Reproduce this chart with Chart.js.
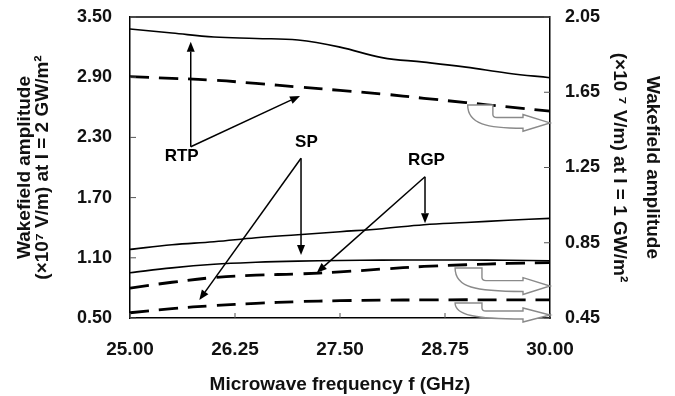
<!DOCTYPE html>
<html>
<head>
<meta charset="utf-8">
<script src="https://cdn.jsdelivr.net/npm/chart.js@4.4.1/dist/chart.umd.min.js"></script>
<style>
  html, body { margin: 0; padding: 0; background: #fff; }
  #wrap { width: 675px; height: 396px; }
</style>
</head>
<body>
<div id="wrap"><canvas id="c" width="675" height="396"></canvas></div>
<script>
// ---- data ----
const frequency = [25.0, 25.5, 26.0, 26.5, 27.0, 27.5, 28.0, 28.5, 29.0, 29.5, 30.0];
// left axis: I = 2 GW/m^2 (solid lines)
const rtpSolid = [3.38, 3.34, 3.30, 3.286, 3.27, 3.20, 3.095, 3.05, 3.00, 2.94, 2.895];
const rgpSolid = [1.184, 1.23, 1.26, 1.30, 1.33, 1.36, 1.39, 1.43, 1.452, 1.474, 1.493];
const spSolid  = [0.951, 1.00, 1.035, 1.055, 1.067, 1.073, 1.077, 1.078, 1.078, 1.075, 1.07];
// right axis: I = 1 GW/m^2 (dashed lines)
const rtpDashed = [1.733, 1.724, 1.714, 1.697, 1.678, 1.66, 1.641, 1.618, 1.595, 1.572, 1.550];
const rgpDashed = [0.609, 0.64, 0.665, 0.678, 0.684, 0.695, 0.71, 0.724, 0.733, 0.74, 0.744];
const spDashed  = [0.478, 0.50, 0.516, 0.528, 0.537, 0.542, 0.545, 0.546, 0.547, 0.546, 0.546];
// tick values
const xTicks = [25.00, 26.25, 27.50, 28.75, 30.00];
const yLeftTicks = [0.50, 1.10, 1.70, 2.30, 2.90, 3.50];
const yRightTicks = [0.45, 0.85, 1.25, 1.65, 2.05];

// annotation labels (data coordinates, left axis)
const labelNotes = [
  { text: 'RTP', at: [25.615, 2.108], from: [25.723, 2.207], to: [[25.723, 3.254], [27.024, 2.713]] },
  { text: 'SP',  at: [27.10, 2.247],  from: [27.036, 2.092], to: [[27.036, 1.128], [25.825, 0.679]] },
  { text: 'RGP', at: [28.53, 2.075],  from: [28.512, 1.908], to: [[28.512, 1.444], [27.223, 0.951]] }
];
// hollow bent arrows pointing to the right axis (right-axis units: top of hook, arrow tip)
const axisPointers = [
  { top: 1.582, tip: 1.487, left: 29.02, inner: 29.32 },
  { top: 0.716, tip: 0.620, left: 28.87, inner: 29.19 },
  { top: 0.530, tip: 0.466, left: 28.87, inner: 29.19 }
];

const FONT = "'Liberation Sans', Arial, Helvetica, sans-serif";

function toPts(ys) { return frequency.map((f, i) => ({ x: f, y: ys[i] })); }

const decorPlugin = {
  id: 'decor',
  afterDatasetsDraw(chart) {
    const { ctx, chartArea: a, scales } = chart;
    const x = scales.x, y = scales.y, y2 = scales.y2;
    ctx.save();
    // frame top
    ctx.strokeStyle = '#000';
    ctx.lineWidth = 1.5;
    ctx.beginPath();
    ctx.moveTo(a.left, a.top); ctx.lineTo(a.right, a.top);
    ctx.stroke();
    // inner ticks
    ctx.lineWidth = 1;
    ctx.strokeStyle = '#555';
    ctx.beginPath();
    xTicks.forEach(v => { const px = x.getPixelForValue(v); ctx.moveTo(px, a.bottom); ctx.lineTo(px, a.bottom - 5); });
    yLeftTicks.forEach(v => { const py = y.getPixelForValue(v); ctx.moveTo(a.left, py); ctx.lineTo(a.left + 6, py); });
    yRightTicks.forEach(v => { const py = y2.getPixelForValue(v); ctx.moveTo(a.right, py); ctx.lineTo(a.right - 6, py); });
    ctx.stroke();

    // hollow bent arrows
    ctx.strokeStyle = '#8a8a8a';
    ctx.fillStyle = '#fff';
    ctx.lineWidth = 1.4;
    axisPointers.forEach(p => {
      const tipX = a.right;
      const tipY = y2.getPixelForValue(p.tip);
      const topY = y2.getPixelForValue(p.top);
      const lx = x.getPixelForValue(p.left);
      const ix = x.getPixelForValue(p.inner);
      const hb = tipX - 27;
      const span = tipY - topY;
      const sh = Math.max(4, Math.min(6, span * 0.3));
      const hh = sh + 3;
      ctx.beginPath();
      ctx.moveTo(lx, topY);
      ctx.lineTo(ix, topY);
      ctx.lineTo(ix, tipY - sh - 3);
      ctx.quadraticCurveTo(ix, tipY - sh, ix + 4, tipY - sh);
      ctx.lineTo(hb, tipY - sh);
      ctx.lineTo(hb, tipY - hh);
      ctx.lineTo(tipX, tipY);
      ctx.lineTo(hb, tipY + hh);
      ctx.lineTo(hb, tipY + sh);
      ctx.bezierCurveTo(lx + 20, tipY + sh, lx, tipY + sh - 4, lx, topY);
      ctx.closePath();
      ctx.fill();
      ctx.stroke();
    });

    // label arrows
    ctx.strokeStyle = '#000';
    ctx.fillStyle = '#000';
    ctx.lineWidth = 1.5;
    labelNotes.forEach(n => {
      const fx = x.getPixelForValue(n.from[0]), fy = y.getPixelForValue(n.from[1]);
      n.to.forEach(t => {
        const tx = x.getPixelForValue(t[0]), ty = y.getPixelForValue(t[1]);
        const ang = Math.atan2(ty - fy, tx - fx);
        const L = 10, W = 4;
        const bx = tx - L * Math.cos(ang), by = ty - L * Math.sin(ang);
        ctx.beginPath();
        ctx.moveTo(fx, fy); ctx.lineTo(bx, by);
        ctx.stroke();
        ctx.beginPath();
        ctx.moveTo(tx, ty);
        ctx.lineTo(bx + W * Math.sin(ang), by - W * Math.cos(ang));
        ctx.lineTo(bx - W * Math.sin(ang), by + W * Math.cos(ang));
        ctx.closePath();
        ctx.fill();
      });
      ctx.font = 'bold 17px ' + FONT;
      ctx.textAlign = 'center';
      ctx.textBaseline = 'middle';
      ctx.fillText(n.text, x.getPixelForValue(n.at[0]), y.getPixelForValue(n.at[1]));
    });
    ctx.restore();
  }
};

const solid = (label, data) => ({
  label, data: toPts(data), yAxisID: 'y', borderColor: '#000', borderWidth: 1.6,
  pointRadius: 0, tension: 0.4, fill: false
});
const dashed = (label, data) => ({
  label, data: toPts(data), yAxisID: 'y2', borderColor: '#000', borderWidth: 2.8,
  borderDash: [19, 10], pointRadius: 0, tension: 0.4, fill: false
});

new Chart(document.getElementById('c'), {
  type: 'line',
  data: {
    datasets: [
      solid('RTP, I = 2 GW/m²', rtpSolid),
      dashed('RTP, I = 1 GW/m²', rtpDashed),
      solid('RGP, I = 2 GW/m²', rgpSolid),
      dashed('RGP, I = 1 GW/m²', rgpDashed),
      solid('SP, I = 2 GW/m²', spSolid),
      dashed('SP, I = 1 GW/m²', spDashed)
    ]
  },
  options: {
    responsive: false,
    animation: false,
    devicePixelRatio: 1,
    layout: { padding: { left: 0, right: 0, top: 17, bottom: 0 } },
    plugins: { legend: { display: false }, tooltip: { enabled: false } },
    scales: {
      x: {
        type: 'linear', min: 25, max: 30,
        afterBuildTicks: s => { s.ticks = xTicks.map(v => ({ value: v })); },
        afterFit: s => { s.height = 78; s.paddingLeft = 0; s.paddingRight = 0; },
        ticks: { color: '#111', font: { family: FONT, size: 19, weight: 'bold' }, padding: 20,
                 callback: v => Number(v).toFixed(2), maxRotation: 0 },
        grid: { display: false, drawTicks: false },
        border: { display: true, color: '#000', width: 1.5 },
        title: { display: true, text: 'Microwave frequency f (GHz)', color: '#111',
                 font: { family: FONT, size: 19, weight: 'bold' }, padding: { top: 12, bottom: 0 } }
      },
      y: {
        type: 'linear', position: 'left', min: 0.5, max: 3.5,
        afterBuildTicks: s => { s.ticks = yLeftTicks.map(v => ({ value: v })); },
        afterFit: s => { s.width = 130; s.paddingTop = 0; s.paddingBottom = 0; },
        ticks: { color: '#111', font: { family: FONT, size: 18, weight: 'bold' }, padding: 18,
                 callback: v => Number(v).toFixed(2) },
        grid: { display: false, drawTicks: false },
        border: { display: true, color: '#000', width: 1.5 },
        title: { display: true, text: ['Wakefield amplitude', '(×10⁷ V/m) at I = 2 GW/m²'], color: '#111',
                 font: { family: FONT, size: 19, weight: 'bold', lineHeight: 0.95 }, padding: { top: 16, bottom: 4 } }
      },
      y2: {
        type: 'linear', position: 'right', min: 0.45, max: 2.05,
        afterBuildTicks: s => { s.ticks = yRightTicks.map(v => ({ value: v })); },
        afterFit: s => { s.width = 125; s.paddingTop = 0; s.paddingBottom = 0; },
        ticks: { color: '#111', font: { family: FONT, size: 18, weight: 'bold' }, padding: 15,
                 callback: v => Number(v).toFixed(2) },
        grid: { display: false, drawTicks: false },
        border: { display: true, color: '#000', width: 1.5 },
        title: { display: true, text: ['Wakefield amplitude', '(×10 ⁷ V/m) at I = 1 GW/m²'], color: '#111',
                 font: { family: FONT, size: 19, weight: 'bold', lineHeight: 1.74 }, padding: { top: 6, bottom: 2 } }
      }
    }
  },
  plugins: [decorPlugin]
});
</script>
</body>
</html>
